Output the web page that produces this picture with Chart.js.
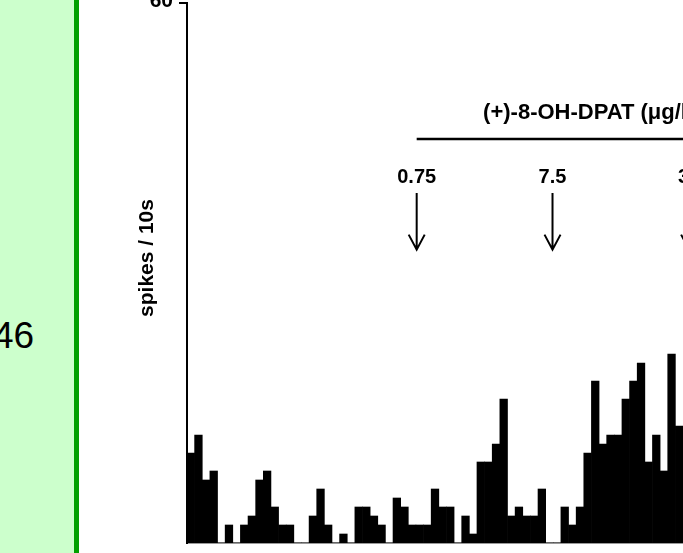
<!DOCTYPE html>
<html>
<head>
<meta charset="utf-8">
<script src="https://cdn.jsdelivr.net/npm/chart.js@4.4.1/dist/chart.umd.min.js"></script>
<style>
  html, body { margin: 0; padding: 0; background: #fff; width: 683px; height: 553px; overflow: hidden; }
  #panel { position: absolute; left: 0; top: 0; width: 74px; height: 553px; background: #ccffcc; border-right: 5px solid #00a000; overflow: hidden; }
  #panelText { position: absolute; left: -7px; top: 317px; font: 37px/1 "Liberation Sans", Arial, sans-serif; color: #000; white-space: nowrap; }
  #wrap { position: absolute; left: 79px; top: 0; width: 604px; height: 553px; }
</style>
</head>
<body>
<div id="panel"><div id="panelText">46</div></div>
<div id="wrap"><canvas id="c"></canvas></div>
<script>
// spikes per 10 s bin
const spikes = [10, 12, 7, 8, 0, 2, 0, 2, 3, 7, 8, 4, 2, 2, 0, 0, 3, 6, 2, 0, 1, 0,
                4, 4, 3, 2, 0, 5, 4, 2, 2, 2, 6, 4, 4, 0, 3, 1, 9, 9, 11, 16, 3, 4,
                3, 3, 6, 0, 0, 4, 2, 4, 10, 18, 11, 12, 12, 16, 18, 20, 9, 12, 8, 21, 13];
const bins = spikes.map((_, i) => i + 1);
const yTicks = [60];
const yTitle = 'spikes / 10s';
const drugLabel = '(+)-8-OH-DPAT (\u03bcg/kg, i.v.)';
const doseLabels = ['0.75', '7.5', '30'];
const doseBins = [30.1, 47.9, 65.8];   // injection times, in bins from start

const FONT = '"Liberation Sans", Arial, sans-serif';

const annot = {
  id: 'annot',
  afterDraw(chart) {
    const ctx = chart.ctx, a = chart.chartArea, y = chart.scales.y;
    const bw = a.width / spikes.length;
    const xb = b => a.left + b * bw;
    ctx.save();
    ctx.fillStyle = '#000';
    ctx.strokeStyle = '#000';
    // y title
    ctx.save();
    ctx.translate(68, 258);
    ctx.rotate(-Math.PI / 2);
    ctx.font = 'bold 21px ' + FONT;
    ctx.textAlign = 'center';
    ctx.textBaseline = 'middle';
    ctx.fillText(yTitle, 0, 0);
    ctx.restore();
    // drug label and bar
    ctx.font = 'bold 22px ' + FONT;
    ctx.textAlign = 'left';
    ctx.textBaseline = 'alphabetic';
    ctx.fillText(drugLabel, xb(38.8), y.getPixelForValue(47.1));
    ctx.lineWidth = 2.5;
    ctx.beginPath();
    const ly = y.getPixelForValue(44.9);
    ctx.moveTo(xb(doseBins[0]), ly);
    ctx.lineTo(a.right + 50, ly);
    ctx.stroke();
    // dose arrows
    ctx.textAlign = 'center';
    ctx.textBaseline = 'middle';
    ctx.font = 'bold 20px ' + FONT;
    doseBins.forEach((b, i) => {
      const x = xb(b);
      ctx.fillText(doseLabels[i], x, y.getPixelForValue(40.6));
      const top = y.getPixelForValue(38.9), tip = y.getPixelForValue(32.6);
      ctx.lineWidth = 2;
      ctx.beginPath();
      ctx.moveTo(x, top); ctx.lineTo(x, tip);
      ctx.moveTo(x - 8, tip - 15); ctx.lineTo(x, tip); ctx.lineTo(x + 8, tip - 15);
      ctx.stroke();
    });
    ctx.restore();
  }
};

new Chart(document.getElementById('c'), {
  type: 'bar',
  data: {
    labels: bins,
    datasets: [{
      data: spikes,
      backgroundColor: '#000',
      borderWidth: 0,
      barPercentage: 1,
      categoryPercentage: 1
    }]
  },
  options: {
    responsive: true,
    maintainAspectRatio: false,
    animation: false,
    devicePixelRatio: 1,
    layout: { padding: { top: 3, left: 0, right: 0, bottom: 0 } },
    plugins: { legend: { display: false }, tooltip: { enabled: false }, title: { display: false } },
    scales: {
      x: {
        type: 'category',
        offset: true,
        grid: { display: false },
        border: { display: true, color: '#999', width: 2 },
        ticks: { display: false },
        afterFit(s) { s.height = 10; s.paddingLeft = 0; s.paddingRight = 0; }
      },
      y: {
        min: 0, max: 60,
        afterBuildTicks(s) { s.ticks = yTicks.map(v => ({ value: v })); },
        ticks: { color: '#000', font: { family: FONT, size: 21, weight: 'bold' }, padding: 6, labelOffset: -2 },
        grid: { drawOnChartArea: false, drawTicks: true, tickLength: 8, color: '#000', lineWidth: 2 },
        border: { display: true, color: '#000', width: 2 },
        afterFit(s) { s.width = 108; s.paddingTop = 0; s.paddingBottom = 0; }
      }
    }
  },
  plugins: [annot]
});
</script>
</body>
</html>
